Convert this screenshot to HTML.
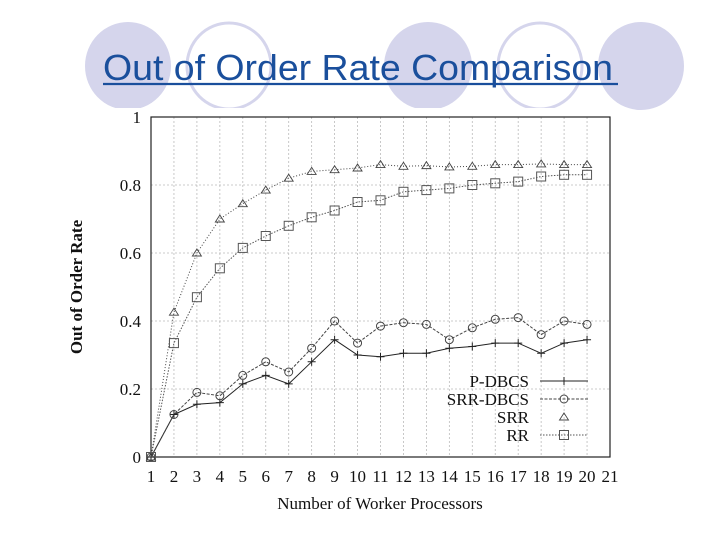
<!DOCTYPE html>
<html><head><meta charset="utf-8"><style>
body{margin:0;width:720px;height:540px;background:#fff;overflow:hidden}
svg{display:block}
</style></head><body>
<svg width="720" height="540" xmlns="http://www.w3.org/2000/svg">
<g>
<ellipse cx="128" cy="66" rx="43" ry="44" fill="#d5d5ec"/>
<ellipse cx="229" cy="66" rx="42" ry="43" fill="none" stroke="#d5d5ec" stroke-width="3"/>
<ellipse cx="428" cy="66" rx="44" ry="44" fill="#d5d5ec"/>
<ellipse cx="540" cy="66" rx="42" ry="43" fill="none" stroke="#d5d5ec" stroke-width="3"/>
<ellipse cx="641" cy="66" rx="43" ry="44" fill="#d5d5ec"/>
</g>
<rect x="60" y="108" width="530" height="432" fill="#fff"/>
<text x="103" y="80" font-family="Liberation Sans, sans-serif" font-size="36" fill="#1a4f9c" textLength="510" lengthAdjust="spacingAndGlyphs">Out of Order Rate Comparison</text>
<line x1="103" y1="84" x2="618" y2="84" stroke="#1a4f9c" stroke-width="2.2"/>
<g id="plot"></g>
</svg>
<script>
const xs = [1,2,3,4,5,6,7,8,9,10,11,12,13,14,15,16,17,18,19,20];
const pdbcs = [0,0.125,0.155,0.16,0.215,0.24,0.215,0.28,0.345,0.30,0.295,0.305,0.305,0.32,0.325,0.335,0.335,0.305,0.335,0.345];
const srrdbcs = [0,0.125,0.19,0.18,0.24,0.28,0.25,0.32,0.40,0.335,0.385,0.395,0.39,0.345,0.38,0.405,0.41,0.36,0.40,0.39];
const srr = [0,0.426,0.60,0.70,0.745,0.785,0.82,0.84,0.845,0.85,0.86,0.855,0.857,0.853,0.855,0.86,0.86,0.862,0.86,0.86];
const rr = [0,0.335,0.47,0.555,0.615,0.65,0.68,0.705,0.725,0.75,0.755,0.78,0.785,0.79,0.80,0.805,0.81,0.825,0.83,0.83];
const xTicks = [1,2,3,4,5,6,7,8,9,10,11,12,13,14,15,16,17,18,19,20,21];
const yTicks = [0,0.2,0.4,0.6,0.8,1];
const yTickLabels = ["0","0.2","0.4","0.6","0.8","1"];

const L=151,R=610,T=117,B=457;
const sx=v=>L+(v-1)*(R-L)/20;
const sy=v=>B-v*(B-T);
const NS="http://www.w3.org/2000/svg";
const g=document.getElementById('plot');
function mk(tag,attrs,parent){const e=document.createElementNS(NS,tag);for(const k in attrs)e.setAttribute(k,attrs[k]);(parent||g).appendChild(e);return e;}
const serif="Liberation Serif, serif";
xTicks.forEach(v=>{
  const l=mk('line',{x1:sx(v),x2:sx(v),y1:T,y2:B,stroke:'#bbb','stroke-dasharray':'2,2','stroke-width':0.8});
  
  
  const t=mk('text',{x:sx(v),y:482,'text-anchor':'middle','font-family':serif,'font-size':17,fill:'#111'});
  t.textContent=v;
  
  
});
yTicks.forEach((v,i)=>{
  const l=mk('line',{x1:L,x2:R,y1:sy(v),y2:sy(v),stroke:'#bbb','stroke-dasharray':'2,2','stroke-width':0.8});
  
  
  const t=mk('text',{x:141,y:sy(v)+6,'text-anchor':'end','font-family':serif,'font-size':17,fill:'#111'});
  t.textContent=yTickLabels[i];
  
  
});
const fr=mk('rect',{x:L,y:T,width:R-L,height:B-T,fill:'none',stroke:'#222','stroke-width':1.2});


const xt=mk('text',{x:380,y:509,'text-anchor':'middle','font-family':serif,'font-size':17,fill:'#111'});
xt.textContent='Number of Worker Processors';


const yt=mk('text',{x:0,y:0,transform:'translate(82,287) rotate(-90)','text-anchor':'middle','font-family':serif,'font-size':17,'font-weight':'bold',fill:'#111'});
yt.textContent='Out of Order Rate';



function marker(type,x,y,parent){
  if(type==='plus'){mk('path',{d:`M${x-4},${y}H${x+4}M${x},${y-4}V${y+4}`,stroke:'#222','stroke-width':1},parent);}
  else if(type==='circle'){mk('circle',{cx:x,cy:y,r:4,fill:'none',stroke:'#444','stroke-width':1},parent);}
  else if(type==='tri'){mk('path',{d:`M${x},${y-4}L${x+4.5},${y+3}L${x-4.5},${y+3}Z`,fill:'none',stroke:'#444','stroke-width':0.9},parent);}
  else {mk('rect',{x:x-4.5,y:y-4.5,width:9,height:9,fill:'none',stroke:'#555','stroke-width':1},parent);}
}
const series=[
 {name:'P-DBCS',vals:pdbcs,m:'plus',dash:'',col:'#222'},
 {name:'SRR-DBCS',vals:srrdbcs,m:'circle',dash:'3,1.5',col:'#444'},
 {name:'SRR',vals:srr,m:'tri',dash:'1,2',col:'#444'},
 {name:'RR',vals:rr,m:'square',dash:'1.5,1.5',col:'#555'}
];
series.forEach((s,si)=>{
  const grp=mk('g',{});
  
  
  const pts=xs.map((x,i)=>sx(x)+','+sy(s.vals[i])).join(' ');
  mk('polyline',{points:pts,fill:'none',stroke:s.col,'stroke-width':1,'stroke-dasharray':s.dash},grp);
  xs.forEach((x,i)=>marker(s.m,sx(x),sy(s.vals[i]),grp));
  const ly=381+si*18;
  const lg=mk('g',{});
  
  
  const t=mk('text',{x:529,y:ly+6,'text-anchor':'end','font-family':serif,'font-size':17,fill:'#111'},lg);
  t.textContent=s.name;
  if(s.m!=='tri') mk('line',{x1:540,x2:588,y1:ly,y2:ly,stroke:s.col,'stroke-width':1,'stroke-dasharray':s.dash},lg);
  marker(s.m,564,ly,lg);
});
</script>
</body></html>
